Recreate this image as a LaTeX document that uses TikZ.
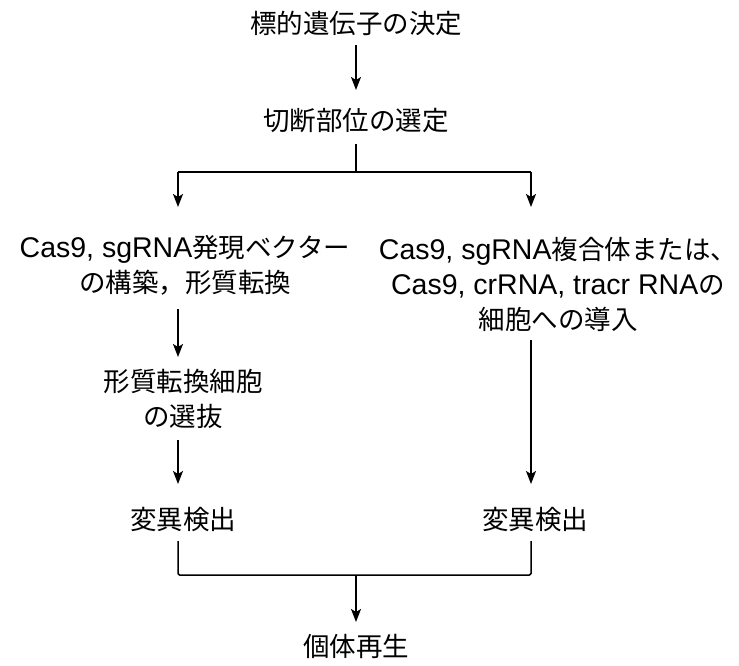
\documentclass[tikz,border=0pt]{standalone}
\usepackage{fontspec}
\setmainfont{Noto Sans CJK JP}
\newfontfamily\latf{Liberation Sans}
\newcommand\lat[1]{{\latf\fontsize{28.5}{35}\selectfont #1}}
\usetikzlibrary{arrows.meta}
\begin{document}
\begin{tikzpicture}[x=1pt,y=-1pt,
  lbl/.style={font=\fontsize{26.5}{35}\selectfont, align=center, inner sep=0pt},
  conn/.style={line width=1.5pt, line join=round},
  arr/.style={conn, -{Stealth[length=13pt,width=10pt,inset=3pt]}}]
\useasboundingbox (0,0) rectangle (739,666);
\node[lbl] (t1) at (356,23) {標的遺伝子の決定};
\node[lbl] (t2) at (356,121) {切断部位の選定};
\node[lbl] (l1) at (185,265) {\lat{Cas9, sgRNA}発現ベクター\\の構築，形質転換};
\node[lbl] (r1) at (558,284) {\lat{Cas9, sgRNA}複合体または、\\\lat{Cas9, crRNA, tracr RNA}の\\細胞への導入};
\node[lbl] (l2) at (183,399) {形質転換細胞\\の選抜};
\node[lbl] (l3) at (183,519) {変異検出};
\node[lbl] (r3) at (535,519) {変異検出};
\node[lbl] (b) at (356,646) {個体再生};
\coordinate (s1) at (356,45);
\coordinate (e1) at (356,90);
\draw[arr] (s1) -- (e1);
\coordinate (s2) at (356,144);
\coordinate (m2) at (356,172);
\coordinate (ml) at (178,172);
\coordinate (mr) at (531,172);
\coordinate (el) at (178,207);
\coordinate (er) at (531,207);
\draw[conn] (s2) -- (m2);
\draw[arr] (ml) -- (el);
\draw[arr] (mr) -- (er);
\draw[conn] (ml) -- (mr);
\coordinate (s3) at (178,309);
\coordinate (e3) at (178,357);
\draw[arr] (s3) -- (e3);
\coordinate (s4) at (178,440);
\coordinate (e4) at (178,484);
\draw[arr] (s4) -- (e4);
\coordinate (s5) at (531,340);
\coordinate (e5) at (531,484);
\draw[arr] (s5) -- (e5);
\coordinate (bl) at (178,541);
\coordinate (br) at (531,541);
\draw[conn, rounded corners=1.5pt] (bl) -- (178,575) -- (531,575) -- (br);
\coordinate (s6) at (356,575);
\coordinate (e6) at (356,622);
\draw[arr] (s6) -- (e6);
\end{tikzpicture}
\end{document}
